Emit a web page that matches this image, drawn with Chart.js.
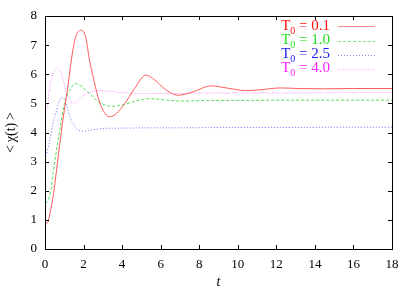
<!DOCTYPE html>
<html>
<head>
<meta charset="utf-8">
<script src="https://cdn.jsdelivr.net/npm/chart.js@4"></script>
<style>
  html, body { margin: 0; padding: 0; background: #fff; }
  #wrap { width: 415px; height: 291px; position: relative; }
</style>
</head>
<body>
<div id="wrap"><canvas id="chart"></canvas></div>
<script>
// <chi(t)> relaxation for four initial temperatures T0
const tRed = [0, 0.15, 0.25, 0.42, 0.6, 0.77, 0.9, 1.0, 1.1, 1.2, 1.3, 1.45, 1.6, 1.85, 2.1, 2.31, 2.5, 2.75, 3.0, 3.35, 3.7, 4.1, 4.65, 5.23, 5.7, 6.2, 6.9, 7.6, 8.64, 9.5, 10.4, 11.2, 12.2, 13.2, 14.5, 16, 18];
const yRed = [0.87, 0.92, 1.2, 1.8, 2.71, 3.62, 4.3, 4.75, 5.2, 5.65, 6.15, 6.85, 7.3, 7.51, 7.3, 6.48, 5.9, 5.22, 4.77, 4.54, 4.65, 4.96, 5.51, 5.97, 5.8, 5.5, 5.28, 5.38, 5.6, 5.52, 5.44, 5.47, 5.53, 5.51, 5.5, 5.51, 5.51];

const tGreen = [0, 0.12, 0.3, 0.42, 0.6, 0.77, 0.94, 1.1, 1.29, 1.55, 1.8, 2.07, 2.38, 2.75, 3.1, 3.44, 4.1, 4.8, 5.43, 6.2, 7.15, 8.5, 10, 12, 14, 16, 18];
const yGreen = [1.6, 1.63, 2.02, 2.6, 3.4, 4.08, 4.77, 5.2, 5.45, 5.68, 5.62, 5.48, 5.3, 5.05, 4.95, 4.9, 4.96, 5.1, 5.16, 5.12, 5.08, 5.1, 5.1, 5.11, 5.11, 5.11, 5.11];

const tBlue = [0, 0.08, 0.25, 0.42, 0.6, 0.75, 0.89, 1.0, 1.12, 1.29, 1.55, 1.81, 2.05, 2.33, 3.1, 4, 5.5, 7, 9, 12, 15, 18];
const yBlue = [3.22, 3.28, 3.74, 4.31, 4.77, 5.08, 5.2, 5.15, 4.95, 4.54, 4.2, 4.06, 4.05, 4.08, 4.14, 4.15, 4.16, 4.16, 4.17, 4.17, 4.18, 4.18];

const tPink = [0, 0.1, 0.25, 0.42, 0.55, 0.65, 0.8, 0.94, 1.12, 1.38, 1.55, 1.9, 2.38, 2.8, 3.3, 4, 5, 6.5, 8, 10, 13, 16, 18];
const yPink = [4.78, 4.82, 5.57, 6.02, 6.18, 6.22, 6.1, 5.8, 5.34, 5.05, 5.02, 5.22, 5.39, 5.44, 5.42, 5.37, 5.34, 5.34, 5.35, 5.36, 5.36, 5.37, 5.37];

const seriesLabels = ['0.1', '1.0', '2.5', '4.0'];
const lineColors = ['#ff5a5a', '#55e055', '#6a6aff', '#ff88ff'];
const sampleColors = ['#ff8c8c', '#7ee87e', '#8c8cff', '#ffa8ff'];
const textColors = ['#ff1010', '#22e022', '#2020f0', '#ff20ff'];
const dashes = [[], [3, 2], [1, 2], [1, 1.5]];

const SERIF = '"Liberation Serif", "DejaVu Serif", serif';

function pts(ts, ys) { return ts.map((t, i) => ({ x: t, y: ys[i] })); }

const data = [pts(tRed, yRed), pts(tGreen, yGreen), pts(tBlue, yBlue), pts(tPink, yPink)];

// gnuplot-style frame with inward ticks on all four sides
const framePlugin = {
  id: 'frame',
  afterDraw(chart) {
    const { ctx, chartArea: a, scales } = chart;
    ctx.save();
    ctx.strokeStyle = '#000';
    ctx.lineWidth = 1;
    ctx.strokeRect(Math.round(a.left) + 0.5, Math.round(a.top) + 0.5, Math.round(a.right - a.left), Math.round(a.bottom - a.top));
    ctx.beginPath();
    const L = 4;
    scales.x.ticks.forEach(tk => {
      const px = Math.round(scales.x.getPixelForValue(tk.value)) + 0.5;
      ctx.moveTo(px, a.bottom); ctx.lineTo(px, a.bottom - L);
      ctx.moveTo(px, a.top); ctx.lineTo(px, a.top + L);
    });
    scales.y.ticks.forEach(tk => {
      const py = Math.round(scales.y.getPixelForValue(tk.value)) + 0.5;
      ctx.moveTo(a.left, py); ctx.lineTo(a.left + L, py);
      ctx.moveTo(a.right, py); ctx.lineTo(a.right - L, py);
    });
    ctx.stroke();
    ctx.restore();
  }
};

// legend with subscript T0, right-aligned text and a sample line
const legendPlugin = {
  id: 'subLegend',
  afterDraw(chart) {
    const { ctx } = chart;
    const textRight = 330, lineX0 = 338, lineX1 = 375;
    const rowY = [26, 40.5, 54.5, 68.5];
    ctx.save();
    seriesLabels.forEach((lab, i) => {
      const y = rowY[i];
      const rest = ' = ' + lab;
      ctx.font = '15px ' + SERIF;
      const wRest = ctx.measureText(rest).width;
      const wT = ctx.measureText('T').width;
      ctx.font = '10px ' + SERIF;
      const wSub = ctx.measureText('0').width;
      let x = textRight - wRest - wSub - wT;
      ctx.fillStyle = textColors[i];
      ctx.textBaseline = 'middle';
      ctx.font = '15px ' + SERIF;
      ctx.fillText('T', x, y);
      x += wT;
      ctx.font = '10px ' + SERIF;
      ctx.fillText('0', x, y + 5);
      x += wSub;
      ctx.font = '15px ' + SERIF;
      ctx.fillText(rest, x, y);
      ctx.strokeStyle = sampleColors[i];
      ctx.lineWidth = 1;
      ctx.setLineDash(dashes[i]);
      ctx.beginPath();
      ctx.moveTo(lineX0, Math.round(y) + 0.5);
      ctx.lineTo(lineX1, Math.round(y) + 0.5);
      ctx.stroke();
    });
    ctx.restore();
  }
};

new Chart(document.getElementById('chart'), {
  type: 'line',
  data: {
    datasets: data.map((d, i) => ({
      label: 'T0 = ' + seriesLabels[i],
      data: d,
      borderColor: lineColors[i],
      borderWidth: 1,
      borderDash: dashes[i],
      pointRadius: 0,
      fill: false,
      cubicInterpolationMode: 'monotone',
    })),
  },
  options: {
    responsive: true,
    maintainAspectRatio: false,
    animation: false,
    layout: { padding: { left: 0, right: 23, top: 16, bottom: 0 } },
    plugins: { legend: { display: false }, tooltip: { enabled: false } },
    scales: {
      x: {
        type: 'linear', min: 0, max: 18,
        grid: { display: false, drawTicks: false },
        border: { display: false },
        ticks: { stepSize: 2, color: '#000', padding: 8, font: { family: SERIF, size: 13 }, maxRotation: 0 },
        title: { display: true, text: 't', color: '#000', padding: { top: 0, bottom: 0 }, font: { family: SERIF, size: 14, style: 'italic' } },
        afterFit(scale) { scale.height = 42; },
      },
      y: {
        min: 0, max: 8,
        grid: { display: false, drawTicks: false },
        border: { display: false },
        ticks: { stepSize: 1, color: '#000', padding: 8, font: { family: SERIF, size: 13 } },
        title: { display: true, text: '<\u2009χ(t)\u2009>', color: '#000', padding: { top: 3, bottom: 0 }, font: { family: SERIF, size: 14 } },
        afterFit(scale) { scale.width = 45; },
      },
    },
  },
  plugins: [framePlugin, legendPlugin],
});
</script>
</body>
</html>
